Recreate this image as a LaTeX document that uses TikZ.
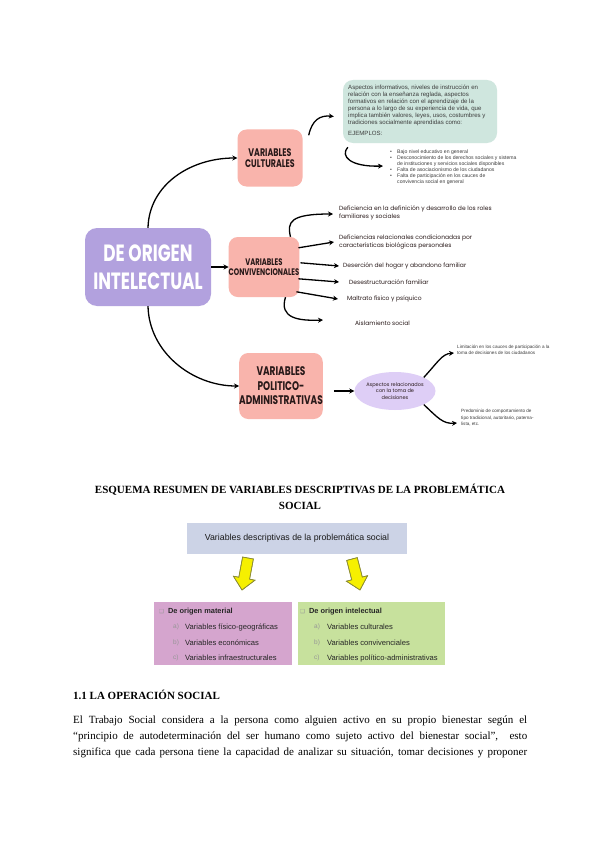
\documentclass[tikz,border=0pt]{standalone}
\usepackage{fontspec}
\setmainfont{Liberation Serif}
\newfontfamily\capsfont[FakeStretch=0.72]{Poppins}
\newfontfamily\handfont{Poppins}
\newfontfamily\arialfont{Liberation Sans}
\newfontfamily\djvfont{DejaVu Sans}
\usetikzlibrary{arrows.meta,shapes.geometric}
\definecolor{lavbox}{RGB}{178,161,222}
\definecolor{pinkbox}{RGB}{249,180,172}
\definecolor{tealbox}{RGB}{207,230,222}
\definecolor{lavell}{RGB}{222,206,246}
\definecolor{bluebox}{RGB}{204,211,230}
\definecolor{mauvebox}{RGB}{213,165,206}
\definecolor{greenbox}{RGB}{199,225,157}
\definecolor{yel}{RGB}{246,240,0}
\definecolor{yeledge}{RGB}{140,140,50}
\definecolor{inkdark}{RGB}{40,25,25}
\definecolor{graylet}{RGB}{150,150,150}
\definecolor{smalltxt}{RGB}{60,60,60}
\newcommand{\fs}[2]{\fontsize{#1}{#2}\selectfont}
\newcommand{\bl}{\makebox[7pt][l]{\textbullet}}
\begin{document}
\begin{tikzpicture}[x=1pt,y=-1pt,
  arr/.style={line width=1.3pt,-{Stealth[length=5pt,width=5pt]}},
  pbox/.style={fill=pinkbox,rounded corners=9pt,inner sep=0pt,align=center,text=inkdark},
  hand/.style={inner sep=0pt,anchor=west,align=left,text=inkdark,font=\handfont\fs{6}{8}},
  tiny/.style={inner sep=0pt,anchor=west,align=left,text=smalltxt,font=\arialfont\fs{4.6}{6}},
  lowbox/.style={minimum width=138pt,minimum height=63pt,inner sep=0pt},
  lowtxt/.style={inner sep=0pt,anchor=west,font=\arialfont\fs{7.6}{9},text=black!85},
  lowlet/.style={inner sep=0pt,anchor=west,font=\arialfont\fs{6.5}{8},text=graylet},
  serifline/.style={inner sep=0pt,anchor=west,font=\fs{11}{13}},
  yarrow/.style={fill=yel,draw=yeledge,line width=0.6pt,line join=miter}
  ]
\useasboundingbox[fill=white] (0,0) rectangle (600,848);

% ---------- mind map ----------
\node[fill=lavbox,rounded corners=12pt,minimum width=126pt,minimum height=78pt,inner sep=0pt,
      align=center,text=white,font=\capsfont\bfseries\fs{23.5}{28}] (main) at (148,267) {DE ORIGEN\\INTELECTUAL};

\node[pbox,minimum width=65pt,minimum height=57pt,font=\capsfont\bfseries\fs{11}{11.5}] (cult) at (270,158) {VARIABLES\\CULTURALES};
\node[pbox,minimum width=65pt,minimum height=60pt,font=\capsfont\bfseries\fs{9.5}{10.5}] (conv) at (264,267) {VARIABLES\\CONVIVENCIONALES};
\node[pbox,minimum width=82pt,minimum height=66pt,font=\capsfont\bfseries\fs{12.5}{14.5}] (pol) at (281,386) {VARIABLES\\POLITICO-\\ADMINISTRATIVAS};

\draw[arr] (main.north) .. controls (149,185) and (190,158) .. (cult.west);
\draw[arr] (main.south) .. controls (149,352) and (192,386) .. (pol.west);
\draw[arr] (main.east) -- (conv.west);

% culturales branch
\node[fill=tealbox,rounded corners=10pt,minimum width=154pt,minimum height=63pt,inner sep=0pt] (info) at (420,111.5) {};
\node[tiny,anchor=north west,font=\arialfont\fs{6.1}{6.9}] (infotxt) at (348,85) {Aspectos informativos, niveles de instrucción en\\relación con la enseñanza reglada, aspectos\\formativos en relación con el aprendizaje de la\\persona a lo largo de su experiencia de vida, que\\implica también valores, leyes, usos, costumbres y\\tradiciones socialmente aprendidas como:\\[4pt]EJEMPLOS:};
\draw[arr] ([shift={(6,6)}]cult.north east) .. controls (312,120) and (320,115) .. ([shift={(-9,5)}]info.west);

\node[tiny,anchor=north west,font=\arialfont\fs{5.1}{6}] (bul) at (390,150) {\bl Bajo nivel educativo en general\\\bl Desconocimiento de los derechos sociales y sistema\\\hspace*{7pt}de instituciones y servicios sociales disponibles\\\bl Falta de asociacionismo de los ciudadanos\\\bl Falta de participación en los cauces de\\\hspace*{7pt}convivencia social en general};
\coordinate (bulin) at (383,166);
\draw[arr] ([shift={(5,4)}]info.south west) .. controls (340,156) and (350,167) .. (bulin);

% convivenciales branch
\node[hand] (c1) at (339,213) {Deficiencia en la definición y desarrollo de los roles\\familiares y sociales};
\node[hand] (c2) at (339,242) {Deficiencias relacionales condicionadas por\\características biológicas personales};
\node[hand] (c3) at (343,266) {Deserción del hogar y abandono familiar};
\node[hand] (c4) at (349,282) {Desestructuración familiar};
\node[hand] (c5) at (347,299) {Maltrato físico y psíquico};
\node[hand] (c6) at (355,323) {Aislamiento social};
\draw[arr] ([shift={(-9,0)}]conv.north east) .. controls (287,222) and (290,214) .. ([shift={(-6,1)}]c1.west);
\draw[arr] ([shift={(-1,11)}]conv.north east) -- ([shift={(-5,0)}]c2.west);
\draw[arr] ([shift={(1,26)}]conv.north east) -- ([shift={(-4,0)}]c3.west);
\draw[arr] ([shift={(-1,42)}]conv.north east) -- ([shift={(-10,0)}]c4.west);
\draw[arr] ([shift={(-3,55)}]conv.north east) -- ([shift={(-9,0)}]c5.west);
\draw[arr] ([shift={(-14,0)}]conv.south east) .. controls (279,318) and (298,321) .. ([shift={(-32,-3)}]c6.west);

% politico-administrativas branch
\node[ellipse,fill=lavell,minimum width=62pt,minimum height=38pt,inner sep=0pt,align=center,
      text=inkdark,font=\handfont\fs{5}{6.8}] (ell) at (395,391) {Aspectos relacionados\\con la toma de\\decisiones};
\draw[arr] ([shift={(11,5)}]pol.east) -- (ell.west);
\node[tiny,font=\arialfont\fs{4.6}{6.6}] (p1) at (457,350) {Limitación en los cauces de participación a la\\toma de decisiones de los ciudadanos};
\node[tiny,font=\arialfont\fs{4.6}{6.6}] (p2) at (461,418) {Predominio de comportamiento de\\tipo tradicional, autoritario, paterna-\\lista, etc.};
\draw[arr] (ell.north east) .. controls (438,362) and (442,354) .. ([shift={(-3,3)}]p1.west);
\draw[arr] (ell.south east) .. controls (438,418) and (443,424) .. ([shift={(-4,5)}]p2.west);

% ---------- summary scheme ----------
\node[inner sep=0pt,align=center,font=\bfseries\fs{11}{16}] (title) at (300,497) {ESQUEMA RESUMEN DE VARIABLES DESCRIPTIVAS DE LA PROBLEMÁTICA\\SOCIAL};

\node[fill=bluebox,minimum width=220pt,minimum height=31pt,inner sep=0pt,font=\arialfont\fs{8.8}{10},text=black!90] (top) at (297,538) {Variables descriptivas de la problemática social};

\fill[yarrow] (253.4,559.0) -- (249.6,579.2) -- (255.0,580.2) -- (242,590) -- (233.4,576.2) -- (238.8,577.2) -- (242.6,557.0) -- cycle;
\fill[yarrow] (357.3,557.6) -- (362.3,577.0) -- (367.6,575.7) -- (360,590) -- (346.4,581.2) -- (351.7,579.8) -- (346.7,560.4) -- cycle;
\draw[yarrow,fill=none] (253.4,559.0) -- (249.6,579.2) -- (255.0,580.2) -- (242,590) -- (233.4,576.2) -- (238.8,577.2) -- (242.6,557.0) -- cycle;
\draw[yarrow,fill=none] (357.3,557.6) -- (362.3,577.0) -- (367.6,575.7) -- (360,590) -- (346.4,581.2) -- (351.7,579.8) -- (346.7,560.4) -- cycle;

\node[lowbox,fill=mauvebox] (mat) at (223,633) {};
\node[lowbox,fill=greenbox,minimum width=147pt] (int) at (371.5,633) {};

\node[lowtxt,font=\arialfont\bfseries\fs{7.4}{9}] (mh) at (159,612) {{\djvfont\color{graylet}\fs{5.5}{6}❑}\hspace{4pt}De origen material};
\node[lowlet] (ma) at (173,627) {a)};
\node[lowtxt] (mat1) at (185,627) {Variables físico-geográficas};
\node[lowlet] (mb) at (173,643) {b)};
\node[lowtxt] (mat2) at (185,643) {Variables económicas};
\node[lowlet] (mc) at (173,658) {c)};
\node[lowtxt] (mat3) at (185,658) {Variables infraestructurales};

\node[lowtxt,font=\arialfont\bfseries\fs{7.4}{9}] (ih) at (300,612) {{\djvfont\color{graylet}\fs{5.5}{6}❑}\hspace{4pt}De origen intelectual};
\node[lowlet] (ia) at (314,627) {a)};
\node[lowtxt] (int1) at (327,627) {Variables culturales};
\node[lowlet] (ib) at (314,643) {b)};
\node[lowtxt] (int2) at (327,643) {Variables convivenciales};
\node[lowlet] (ic) at (314,658) {c)};
\node[lowtxt] (int3) at (327,658) {Variables político-administrativas};

% ---------- text ----------
\node[serifline,font=\bfseries\fs{11}{13}] (head) at (73,695) {1.1 LA OPERACIÓN SOCIAL};
\node[serifline] (l1) at (73,721) {\makebox[454pt][s]{El Trabajo Social considera a la persona como alguien activo en su propio bienestar según el}};
\node[serifline] (l2) at (73,737) {\makebox[454pt][s]{“principio de autodeterminación del ser humano como sujeto activo del bienestar social”,\ \ esto}};
\node[serifline] (l3) at (73,753) {\makebox[454pt][s]{significa que cada persona tiene la capacidad de analizar su situación, tomar decisiones y proponer}};
\end{tikzpicture}
\end{document}
